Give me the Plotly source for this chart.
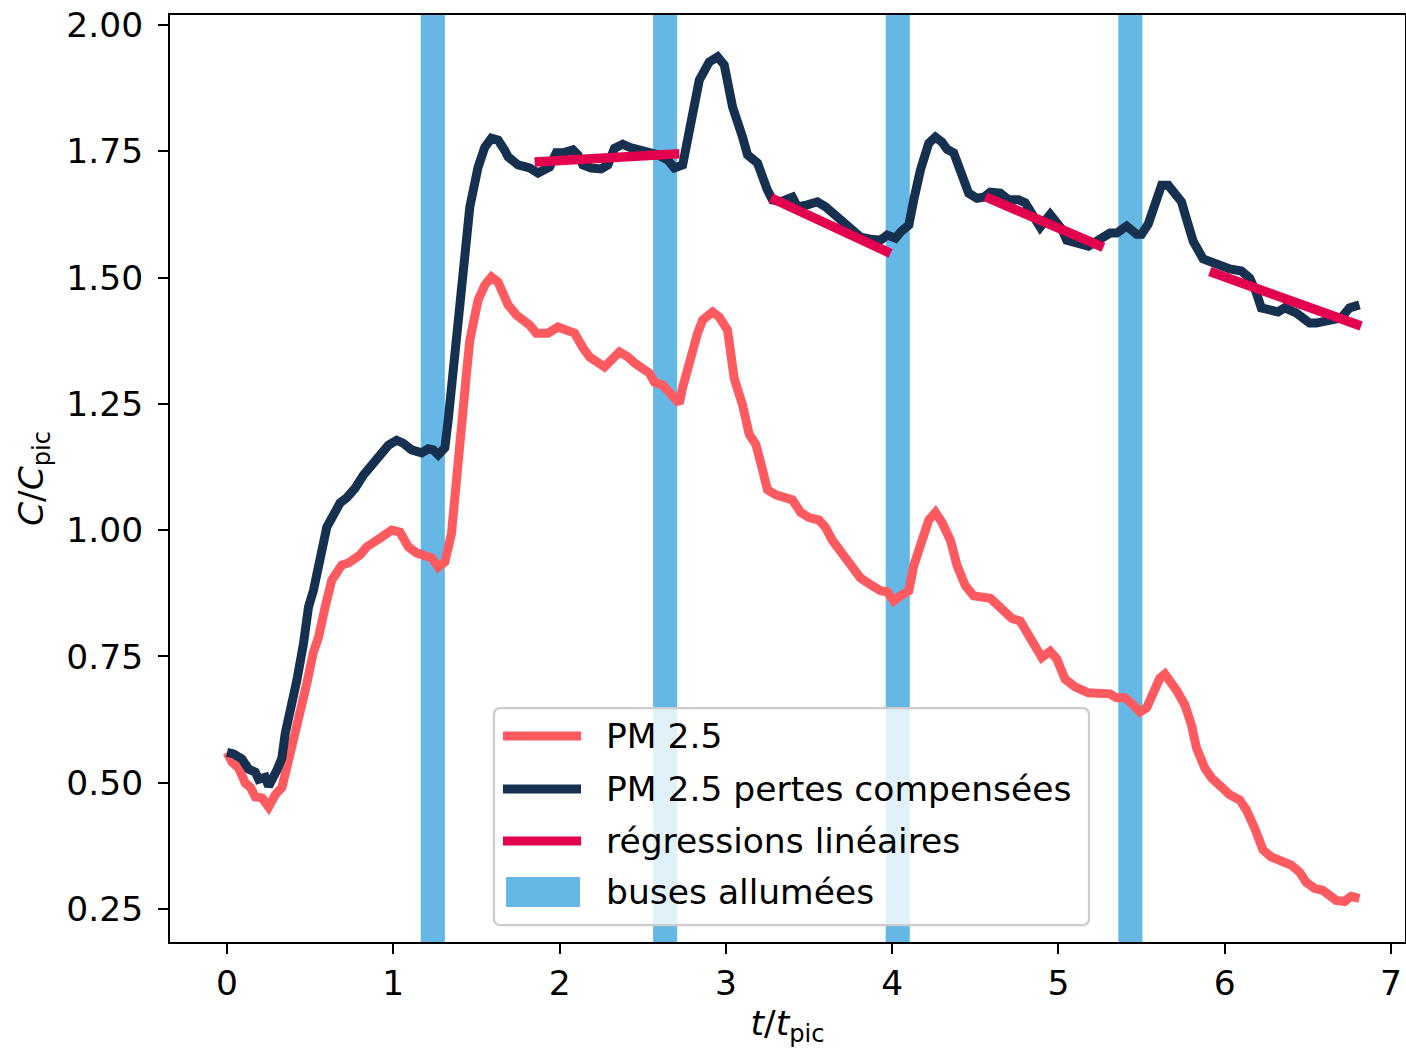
import plotly.graph_objects as go

# ---- data ----
t_pm = [0.00, 0.03, 0.07, 0.11, 0.14, 0.17, 0.21, 0.25, 0.29, 0.33, 0.36, 0.39, 0.44, 0.48,
        0.52, 0.55, 0.59, 0.63, 0.69, 0.73, 0.80, 0.84, 0.92, 0.99, 1.04, 1.09, 1.14, 1.19,
        1.23, 1.27, 1.31, 1.35, 1.38, 1.42, 1.44, 1.46, 1.51, 1.55, 1.59, 1.63, 1.67, 1.69,
        1.74, 1.82, 1.86, 1.93, 1.99, 2.04, 2.09, 2.14, 2.18, 2.27, 2.32, 2.36, 2.41, 2.45,
        2.54, 2.57, 2.62, 2.68, 2.72, 2.74, 2.78, 2.83, 2.86, 2.92, 2.96, 3.01, 3.05, 3.10,
        3.14, 3.18, 3.22, 3.25, 3.30, 3.36, 3.40, 3.45, 3.50, 3.56, 3.60, 3.64, 3.69, 3.75,
        3.81, 3.88, 3.93, 3.97, 4.01, 4.05, 4.10, 4.13, 4.17, 4.22, 4.26, 4.30, 4.35, 4.39,
        4.44, 4.49, 4.53, 4.59, 4.63, 4.68, 4.72, 4.77, 4.81, 4.86, 4.90, 4.95, 4.99, 5.04,
        5.10, 5.18, 5.25, 5.31, 5.35, 5.40, 5.45, 5.49, 5.53, 5.57, 5.61, 5.64, 5.67, 5.71,
        5.76, 5.80, 5.83, 5.88, 5.92, 5.98, 6.03, 6.09, 6.13, 6.18, 6.23, 6.28, 6.34, 6.40,
        6.45, 6.49, 6.54, 6.59, 6.63, 6.67, 6.72, 6.76, 6.81]
pm = [0.560, 0.541, 0.529, 0.499, 0.491, 0.472, 0.470, 0.452, 0.476, 0.491, 0.531, 0.569, 0.638, 0.697,
      0.759, 0.788, 0.848, 0.901, 0.931, 0.935, 0.951, 0.967, 0.984, 1.000, 0.996, 0.967, 0.955, 0.947,
      0.945, 0.927, 0.937, 0.994, 1.113, 1.258, 1.311, 1.376, 1.456, 1.485, 1.501, 1.491, 1.462, 1.446,
      1.426, 1.406, 1.390, 1.390, 1.402, 1.396, 1.390, 1.361, 1.343, 1.323, 1.337, 1.353, 1.343, 1.331,
      1.311, 1.293, 1.287, 1.261, 1.251, 1.283, 1.337, 1.390, 1.416, 1.432, 1.422, 1.396, 1.300, 1.248,
      1.190, 1.170, 1.120, 1.080, 1.070, 1.065, 1.060, 1.035, 1.025, 1.020, 1.005, 0.980, 0.960, 0.930,
      0.905, 0.890, 0.880, 0.878, 0.860, 0.870, 0.880, 0.930, 0.975, 1.020, 1.035, 1.015, 0.980, 0.930,
      0.890, 0.870, 0.868, 0.865, 0.853, 0.840, 0.825, 0.820, 0.800, 0.770, 0.748, 0.760, 0.745, 0.705,
      0.690, 0.678, 0.676, 0.676, 0.668, 0.668, 0.654, 0.640, 0.648, 0.674, 0.707, 0.715, 0.703, 0.683,
      0.654, 0.614, 0.569, 0.529, 0.510, 0.494, 0.476, 0.466, 0.446, 0.410, 0.367, 0.353, 0.343, 0.337,
      0.323, 0.303, 0.291, 0.287, 0.277, 0.267, 0.265, 0.275, 0.271]

t_comp = [0.00, 0.04, 0.09, 0.13, 0.17, 0.19, 0.23, 0.25, 0.30, 0.33, 0.35, 0.38, 0.42, 0.46,
          0.49, 0.52, 0.56, 0.60, 0.63, 0.68, 0.72, 0.77, 0.82, 0.88, 0.97, 1.02, 1.06, 1.11,
          1.17, 1.21, 1.24, 1.27, 1.31, 1.33, 1.38, 1.43, 1.46, 1.51, 1.55, 1.59, 1.63, 1.67,
          1.69, 1.75, 1.82, 1.87, 1.94, 1.98, 2.02, 2.08, 2.11, 2.14, 2.19, 2.25, 2.29, 2.33,
          2.38, 2.42, 2.47, 2.54, 2.59, 2.65, 2.69, 2.74, 2.77, 2.80, 2.84, 2.90, 2.95, 2.99,
          3.04, 3.10, 3.13, 3.19, 3.22, 3.25, 3.28, 3.33, 3.40, 3.43, 3.49, 3.55, 3.60, 3.64,
          3.69, 3.75, 3.81, 3.87, 3.93, 3.97, 4.02, 4.05, 4.10, 4.13, 4.17, 4.22, 4.26, 4.30,
          4.33, 4.37, 4.43, 4.46, 4.51, 4.55, 4.59, 4.65, 4.70, 4.76, 4.80, 4.85, 4.89, 4.95,
          5.02, 5.05, 5.18, 5.25, 5.31, 5.35, 5.41, 5.47, 5.50, 5.54, 5.58, 5.62, 5.66, 5.69,
          5.74, 5.77, 5.81, 5.87, 5.93, 5.98, 6.03, 6.10, 6.15, 6.19, 6.22, 6.32, 6.36, 6.43,
          6.51, 6.55, 6.65, 6.70, 6.75, 6.81]
comp = [0.560, 0.557, 0.547, 0.527, 0.521, 0.507, 0.511, 0.493, 0.525, 0.549, 0.598, 0.638, 0.703, 0.776,
        0.848, 0.881, 0.947, 1.006, 1.024, 1.054, 1.064, 1.083, 1.109, 1.133, 1.168, 1.178, 1.172, 1.159,
        1.153, 1.161, 1.159, 1.149, 1.163, 1.218, 1.390, 1.574, 1.640, 1.719, 1.758, 1.776, 1.772, 1.752,
        1.739, 1.723, 1.717, 1.707, 1.719, 1.747, 1.747, 1.753, 1.743, 1.723, 1.717, 1.715, 1.723, 1.756,
        1.764, 1.758, 1.753, 1.749, 1.743, 1.733, 1.717, 1.723, 1.772, 1.826, 1.891, 1.927, 1.937, 1.921,
        1.838, 1.778, 1.743, 1.727, 1.697, 1.673, 1.654, 1.650, 1.659, 1.640, 1.644, 1.650, 1.640, 1.628,
        1.618, 1.600, 1.580, 1.576, 1.574, 1.584, 1.578, 1.590, 1.604, 1.654, 1.713, 1.766, 1.778, 1.768,
        1.754, 1.747, 1.689, 1.667, 1.657, 1.659, 1.669, 1.667, 1.654, 1.654, 1.648, 1.618, 1.600, 1.625,
        1.596, 1.574, 1.562, 1.576, 1.588, 1.588, 1.602, 1.586, 1.586, 1.606, 1.645, 1.683, 1.683, 1.669,
        1.650, 1.616, 1.572, 1.537, 1.529, 1.525, 1.517, 1.513, 1.499, 1.470, 1.440, 1.432, 1.440, 1.430,
        1.410, 1.410, 1.416, 1.420, 1.440, 1.446]

# linear regressions: (t_start, t_end, y_start, y_end)
reg_t0 = [1.85, 3.27, 4.56, 5.91]
reg_t1 = [2.72, 3.99, 5.27, 6.82]
reg_y0 = [1.729, 1.658, 1.660, 1.512]
reg_y1 = [1.745, 1.548, 1.560, 1.404]

# nozzle-on intervals
band_start = [1.165, 2.562, 3.961, 5.360]
band_end = [1.310, 2.707, 4.106, 5.505]

x_ticks = [0, 1, 2, 3, 4, 5, 6, 7]
y_ticks = [0.25, 0.50, 0.75, 1.00, 1.25, 1.50, 1.75, 2.00]
y_tick_labels = ["0.25", "0.50", "0.75", "1.00", "1.25", "1.50", "1.75", "2.00"]

legend_labels = ["PM 2.5", "PM 2.5 pertes compensées", "régressions linéaires", "buses allumées"]

X_RANGE = [-0.343, 7.084]
Y_RANGE = [0.1847, 2.0198]

RED = "#FF5A5F"
DARK = "#16304F"
MAGENTA = "#E2004F"
BLUE = "#65B8E6"
FONT = "DejaVu Sans"
FS = 34.5
LW = 9
RLW = 9.5

fig = go.Figure()

# nozzle bands as layout shapes spanning the full plot height, below the data
shapes = []
for a, b in zip(band_start, band_end):
    shapes.append(dict(type="rect", xref="x", yref="paper", x0=a, x1=b, y0=0, y1=1,
                       fillcolor=BLUE, line=dict(width=0), layer="below"))

fig.add_trace(go.Scatter(x=t_pm, y=pm, mode="lines", line=dict(color=RED, width=LW),
                         name=legend_labels[0]))
fig.add_trace(go.Scatter(x=t_comp, y=comp, mode="lines", line=dict(color=DARK, width=LW),
                         name=legend_labels[1]))

rx, ry = [], []
for a, b, c, d in zip(reg_t0, reg_t1, reg_y0, reg_y1):
    rx += [a, b, None]
    ry += [c, d, None]
fig.add_trace(go.Scatter(x=rx, y=ry, mode="lines", line=dict(color=MAGENTA, width=RLW),
                         name=legend_labels[2], connectgaps=False))

# ---- hand-built legend (matplotlib style) in paper coordinates ----
LX0, LX1, LY0, LY1 = 0.2623, 0.7441, 0.0183, 0.2524
rx_, ry_ = 0.0055, 0.0074
legend_path = (f"M{LX0+rx_},{LY0} L{LX1-rx_},{LY0} Q{LX1},{LY0} {LX1},{LY0+ry_} "
               f"L{LX1},{LY1-ry_} Q{LX1},{LY1} {LX1-rx_},{LY1} "
               f"L{LX0+rx_},{LY1} Q{LX0},{LY1} {LX0},{LY1-ry_} "
               f"L{LX0},{LY0+ry_} Q{LX0},{LY0} {LX0+rx_},{LY0} Z")
shapes.append(dict(type="path", xref="paper", yref="paper", path=legend_path,
                   fillcolor="rgba(255,255,255,0.8)", line=dict(color="#cccccc", width=2.2),
                   layer="above"))
row_y = [0.2222, 0.1650, 0.1090, 0.0540]
sym_x0, sym_x1 = 0.2696, 0.3328
for yy, col in zip(row_y[:3], [RED, DARK, MAGENTA]):
    shapes.append(dict(type="line", xref="paper", yref="paper", x0=sym_x0, x1=sym_x1,
                       y0=yy, y1=yy, line=dict(color=col, width=LW), layer="above"))
shapes.append(dict(type="rect", xref="paper", yref="paper", x0=0.2721, x1=0.3320,
                   y0=0.0378, y1=0.0701, fillcolor=BLUE, line=dict(width=0), layer="above"))

annotations = []
for yy, txt in zip(row_y, legend_labels):
    annotations.append(dict(xref="paper", yref="paper", x=0.3515, y=yy, text=txt,
                            showarrow=False, xanchor="left", yanchor="middle",
                            font=dict(family=FONT, size=FS, color="black")))

axis_common = dict(showline=True, linecolor="black", linewidth=2, mirror=True,
                   ticks="outside", ticklen=10, tickwidth=2, tickcolor="black",
                   showgrid=False, zeroline=False, automargin=False,
                   tickfont=dict(family=FONT, size=FS, color="black"))

fig.update_layout(
    width=1406, height=1052,
    margin=dict(l=170, r=1, t=15, b=110),
    plot_bgcolor="white", paper_bgcolor="white",
    font=dict(family=FONT, size=FS, color="black"),
    xaxis=dict(range=X_RANGE, tickvals=x_ticks, ticktext=[str(v) for v in x_ticks],
               title=dict(text="<i>t</i>/<i>t</i><sub>pic</sub>", standoff=8,
                          font=dict(family=FONT, size=FS)),
               **axis_common),
    yaxis=dict(range=Y_RANGE, tickvals=y_ticks, ticktext=y_tick_labels, ticklabelstandoff=8,
               title=dict(text="<i>C</i>/<i>C</i><sub>pic</sub>", standoff=12,
                          font=dict(family=FONT, size=FS)),
               **axis_common),
    shapes=shapes,
    annotations=annotations,
    showlegend=False,
)

fig.write_html("out.html", config={"displayModeBar": False},
               post_script="document.body.style.margin='0px';document.body.style.overflow='hidden';")
